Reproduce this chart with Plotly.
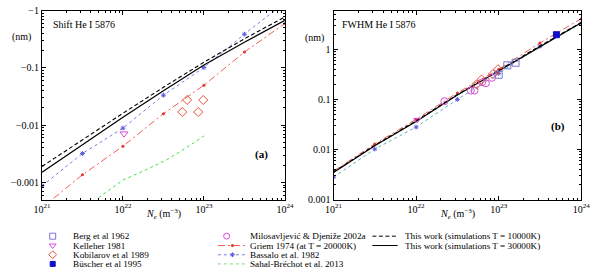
import plotly.graph_objects as go

# ---------------- data ----------------
ne_grid = [1e21, 3.16e21, 1e22, 3.16e22, 1e23, 3.16e23, 1e24]

# (a) Shift He I 5876 -- magnitudes of the (negative) shift, nm
shift_tw10k = [0.0019, 0.0056, 0.0162, 0.046, 0.126, 0.324, 0.78]
shift_tw30k = [0.0015, 0.0046, 0.0138, 0.040, 0.113, 0.282, 0.68]
shift_griem = [0.00036, 0.00136, 0.0043, 0.0159, 0.050, 0.19, 0.60]
shift_bassalo = [0.00087, 0.0032, 0.0089, 0.0335, 0.102, 0.39, 1.4]
sahal_ne = [5e21, 1e22, 2e22, 3.5e22, 6e22, 1e23]
shift_sahal = [0.00054, 0.0011, 0.0017, 0.0025, 0.0040, 0.0065]
kelleher_shift_ne = [1.03e22]
kelleher_shift = [0.0071]
kobilarov_shift_ne = [5.4e22, 6.2e22, 8.5e22, 9.8e22]
kobilarov_shift = [0.017, 0.0276, 0.017, 0.0276]

# (b) FWHM He I 5876, nm
fwhm_tw10k = [0.00355, 0.0122, 0.0372, 0.125, 0.38, 1.17, 3.45]
fwhm_tw30k = [0.00347, 0.0119, 0.0363, 0.122, 0.371, 1.14, 3.39]
fwhm_griem = [0.0037, 0.0129, 0.040, 0.135, 0.40, 1.34, 4.1]
fwhm_bassalo = [0.0028, 0.0102, 0.028, 0.10, 0.33, 1.16, 3.3]
berg_ne = [1.0e23, 1.27e23, 1.6e23]
berg_fwhm = [0.31, 0.48, 0.54]
kelleher_fwhm_ne = [1.03e22]
kelleher_fwhm = [0.039]
kobilarov_fwhm_ne = [5.4e22, 6.2e22, 8.5e22, 9.8e22]
kobilarov_fwhm = [0.20, 0.25, 0.32, 0.40]
buscher_ne = [5.0e23]
buscher_fwhm = [1.96]
milos_ne = [2.2e22, 4.6e22, 5.1e22, 6.3e22, 7.0e22, 8.3e22]
milos_fwhm = [0.092, 0.15, 0.15, 0.22, 0.21, 0.27]

x_tickvals = [1e21, 1e22, 1e23, 1e24]
x_ticktext = ["10<sup>21</sup>", "10<sup>22</sup>", "10<sup>23</sup>", "10<sup>24</sup>"]
shift_tickvals = [1, 0.1, 0.01, 0.001]
shift_ticktext = ["\u22121", "\u22120.1", "\u22120.01", "\u22120.001"]
fwhm_tickvals = [1, 0.1, 0.01, 0.001]
fwhm_ticktext = ["1", "0.1", "0.01", "0.001"]

legend_labels = [
    "Berg et al 1962", "Kelleher 1981", "Kobilarov et al 1989", "B\u00fcscher et al 1995",
    "Milosavljevi\u0107 & Djeni\u017ee 2002a", "Griem 1974 (at T = 20000K)",
    "Bassalo et al. 1982", "Sahal-Br\u00e9chot et al. 2013",
    "This work (simulations T = 10000K)", "This work (simulations T = 30000K)",
]

# ---------------- styles ----------------
FONT = "Liberation Serif"
W, H = 600, 272
C_RED = "#e8332b"
C_BLUE = "#5a5ae0"
C_TEAL = "#3a95b0"
C_GREEN = "#50d850"
C_MAG = "#d84ad8"
C_BERG = "#7a72d8"
C_KOB = "#e5503a"
C_BUS = "#1010c8"
DASH_BASSALO = "3px,3px"
DASH_GRIEM = "7px,3px,2px,3px"
DASH_TW = "4px,2.5px"

fig = go.Figure()

def line(x, y, xa, ya, color, dash, width=1.0, marker=None):
    fig.add_trace(go.Scatter(
        x=x, y=y, xaxis=xa, yaxis=ya, mode="lines+markers" if marker else "lines",
        line=dict(color=color, dash=dash, width=width),
        marker=marker, showlegend=False, hoverinfo="skip"))

def pts(x, y, xa, ya, symbol, color, size=7, lw=1.0):
    fig.add_trace(go.Scatter(
        x=x, y=y, xaxis=xa, yaxis=ya, mode="markers",
        marker=dict(symbol=symbol, size=size, color=color, line=dict(color=color, width=lw)),
        showlegend=False, hoverinfo="skip"))

mk_griem = dict(symbol="circle", size=3, color=C_RED)
mk_bassalo = dict(symbol="asterisk-open", size=4, color=C_BLUE, line=dict(color=C_BLUE, width=1))

# panel (a)
line(sahal_ne, shift_sahal, "x", "y", C_GREEN, "dot", 1.0)
line(ne_grid, shift_griem, "x", "y", C_RED, DASH_GRIEM, 0.8, mk_griem)
line(ne_grid, shift_bassalo, "x", "y", C_BLUE, DASH_BASSALO, 0.8, mk_bassalo)
line(ne_grid, shift_tw10k, "x", "y", "black", DASH_TW, 1.1)
line(ne_grid, shift_tw30k, "x", "y", "black", "solid", 1.2)
pts(kelleher_shift_ne, kelleher_shift, "x", "y", "triangle-down-open", C_MAG, 7)
pts(kobilarov_shift_ne, kobilarov_shift, "x", "y", "diamond-open", C_KOB, 7)

# panel (b)
line(ne_grid, fwhm_bassalo, "x2", "y2", C_TEAL, DASH_BASSALO, 0.8, mk_bassalo)
line(ne_grid, fwhm_griem, "x2", "y2", C_RED, DASH_GRIEM, 0.8, mk_griem)
line(ne_grid, fwhm_tw10k, "x2", "y2", "black", DASH_TW, 1.1)
line(ne_grid, fwhm_tw30k, "x2", "y2", "black", "solid", 1.2)
pts(milos_ne, milos_fwhm, "x2", "y2", "circle-open", C_MAG, 7)
pts(kobilarov_fwhm_ne, kobilarov_fwhm, "x2", "y2", "diamond-open", C_KOB, 7)
pts(kelleher_fwhm_ne, kelleher_fwhm, "x2", "y2", "triangle-down-open", C_MAG, 6)
pts(berg_ne, berg_fwhm, "x2", "y2", "square-open", C_BERG, 7)
pts(buscher_ne, buscher_fwhm, "x2", "y2", "square", C_BUS, 6)

# ---------------- legend (hand drawn, pixel overlay axis x3/y3) ----------------
rows = [240, 249.7, 259.3, 268.8]
sym_specs = [
    ("square-open", C_BERG, 6), ("triangle-down-open", C_MAG, 6),
    ("diamond-open", C_KOB, 6), ("square", C_BUS, 5),
]
for i, (sym, col, sz) in enumerate(sym_specs):
    fig.add_trace(go.Scatter(x=[46], y=[rows[i]], xaxis="x3", yaxis="y3", mode="markers",
                             marker=dict(symbol=sym, size=sz, color=col, line=dict(color=col, width=1)),
                             showlegend=False, hoverinfo="skip"))
fig.add_trace(go.Scatter(x=[225], y=[rows[0]], xaxis="x3", yaxis="y3", mode="markers",
                         marker=dict(symbol="circle-open", size=6, color=C_MAG, line=dict(color=C_MAG, width=1)),
                         showlegend=False, hoverinfo="skip"))
col2_lines = [
    (rows[1], C_RED, DASH_GRIEM, mk_griem),
    (rows[2], C_BLUE, DASH_BASSALO, mk_bassalo),
    (rows[3], C_GREEN, "dot", None),
]
for yy, col, dash, mk in col2_lines:
    fig.add_trace(go.Scatter(x=[216, 245], y=[yy, yy], xaxis="x3", yaxis="y3", mode="lines",
                             line=dict(color=col, dash=dash, width=0.8), showlegend=False, hoverinfo="skip"))
    if mk:
        fig.add_trace(go.Scatter(x=[231], y=[yy], xaxis="x3", yaxis="y3", mode="markers",
                                 marker=mk, showlegend=False, hoverinfo="skip"))
for yy, dash in [(rows[0], DASH_TW), (rows[1], "solid")]:
    fig.add_trace(go.Scatter(x=[375, 401], y=[yy, yy], xaxis="x3", yaxis="y3", mode="lines",
                             line=dict(color="black", dash=dash, width=1), showlegend=False, hoverinfo="skip"))

annotations = []
text_pos = [(65, rows[0]), (65, rows[1]), (65, rows[2]), (65, rows[3]),
            (247, rows[0]), (247, rows[1]), (247, rows[2]), (247, rows[3]),
            (406, rows[0]), (406, rows[1])]
for lab, (tx, ty) in zip(legend_labels, text_pos):
    annotations.append(dict(x=tx, y=ty, xref="x3", yref="y3", text=lab, showarrow=False,
                            xanchor="left", yanchor="middle", font=dict(size=9.2, family=FONT, color="black")))

def ann(x, y, text, size=10, anchor="left"):
    annotations.append(dict(x=x, y=y, xref="x3", yref="y3", text=text, showarrow=False,
                            xanchor=anchor, yanchor="middle", font=dict(size=size, family=FONT, color="black")))

ann(44, 20.5, "Shift He I 5876")
ann(342, 20.5, "FWHM He I 5876")
ann(2, 33, "(nm)")
ann(304, 34, "(nm)")
ann(261, 155, "<b>(a)</b>", 11, "center")
ann(566, 126, "<b>(b)</b>", 11, "center")
ann(160, 216.5, "<i>N<sub>e</sub></i> (m<sup>\u22123</sup>)", 10, "center")
ann(463, 216.5, "<i>N<sub>e</sub></i> (m<sup>\u22123</sup>)", 10, "center")

# ---------------- axes ----------------
y_dom = [(H - 202) / H, (H - 6) / H]

def minor_vals(lo, hi):
    out = []
    for e in range(lo, hi):
        for m in range(2, 10):
            out.append(m * 10.0 ** e)
    return out

common_x = dict(type="log", range=[21, 24], tickmode="array", tickvals=x_tickvals, ticktext=x_ticktext,
                ticks="inside", ticklen=4, tickcolor="black", showline=True, linecolor="black", linewidth=1,
                mirror="ticks", showgrid=False, zeroline=False,
                tickfont=dict(family=FONT, size=10, color="black"),
                minor=dict(tickmode="array", tickvals=minor_vals(21, 24), ticks="inside", ticklen=2,
                           tickcolor="black", showgrid=False))
common_y = dict(type="log", tickmode="array", ticks="inside", ticklen=4, tickcolor="black",
                showline=True, linecolor="black", linewidth=1, mirror="ticks", showgrid=False,
                zeroline=False, domain=y_dom, tickfont=dict(family=FONT, size=10, color="black"))

fig.update_layout(
    width=W, height=H, margin=dict(l=0, r=0, t=0, b=0),
    paper_bgcolor="white", plot_bgcolor="rgba(0,0,0,0)",
    font=dict(family=FONT, color="black"),
    xaxis=dict(domain=[35 / W, 285 / W], anchor="y", **common_x),
    yaxis=dict(anchor="x", range=[-3.30, 0.0], tickvals=shift_tickvals, ticktext=shift_ticktext,
               minor=dict(tickmode="array", tickvals=minor_vals(-4, 0), ticks="inside", ticklen=2,
                          tickcolor="black", showgrid=False), **common_y),
    xaxis2=dict(domain=[335 / W, 590 / W], anchor="y2", **common_x),
    yaxis2=dict(anchor="x2", range=[-3.0, 0.77], tickvals=fwhm_tickvals, ticktext=fwhm_ticktext,
                minor=dict(tickmode="array", tickvals=minor_vals(-3, 1), ticks="inside", ticklen=2,
                           tickcolor="black", showgrid=False), **common_y),
    xaxis3=dict(domain=[0, 1], range=[0, W], visible=False, anchor="y3", fixedrange=True),
    yaxis3=dict(domain=[0, 1], range=[H, 0], visible=False, anchor="x3", fixedrange=True),
    annotations=annotations,
    showlegend=False,
)

fig.write_html("out.html", config={"displayModeBar": False, "staticPlot": True},
               post_script="document.body.style.margin='0px';document.body.style.overflow='hidden';")
